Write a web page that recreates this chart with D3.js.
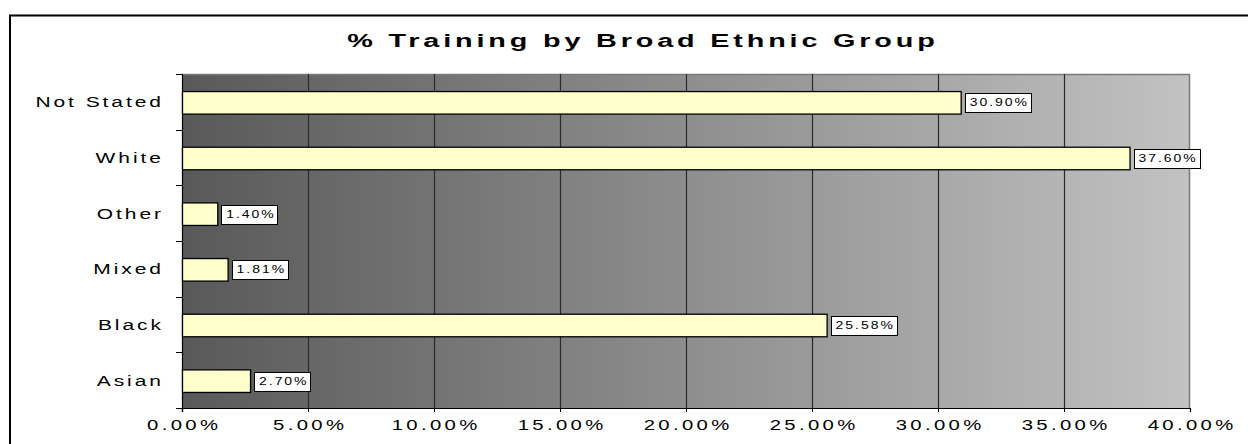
<!DOCTYPE html>
<html><head><meta charset="utf-8">
<script src="https://cdn.jsdelivr.net/npm/d3@7"></script>
<style>body{margin:0;background:#fff}svg{display:block}</style>
</head><body>
<svg id="chart" width="1248" height="444"></svg>
<script>
const title = "% Training by Broad Ethnic Group";
const categories = ["Not Stated", "White", "Other", "Mixed", "Black", "Asian"];
const values = [30.90, 37.60, 1.40, 1.81, 25.58, 2.70];
const labels = ["30.90%", "37.60%", "1.40%", "1.81%", "25.58%", "2.70%"];
const xTicks = [0, 5, 10, 15, 20, 25, 30, 35, 40];

const svg = d3.select("#chart");
const M = {left: 182, top: 74, right: 1190, bottom: 408};
const font = "Liberation Sans, Arial, sans-serif";

// outer frame
svg.append("rect").attr("x", 10).attr("y", 15.5).attr("width", 1400).attr("height", 600)
  .attr("fill", "#fff").attr("stroke", "#000").attr("stroke-width", 2);

const defs = svg.append("defs");
const grad = defs.append("linearGradient").attr("id", "bg").attr("x1", "0%").attr("x2", "100%").attr("y1", "0%").attr("y2", "0%");
grad.append("stop").attr("offset", "0%").attr("stop-color", "#595959");
grad.append("stop").attr("offset", "100%").attr("stop-color", "#c2c2c2");

const x = d3.scaleLinear().domain([0, 40]).range([M.left, M.right]);
const y = d3.scaleBand().domain(categories).range([M.top, M.bottom]).padding(0);

// plot background
svg.append("rect").attr("x", M.left).attr("y", M.top).attr("width", M.right - M.left).attr("height", M.bottom - M.top)
  .attr("fill", "url(#bg)");
// top/right border
svg.append("path").attr("d", `M${M.left},${M.top + 0.5}H${M.right - 0.5}V${M.bottom}`)
  .attr("fill", "none").attr("stroke", "#7a7a7a").attr("stroke-width", 1.5);

// gridlines
svg.append("g").selectAll("line").data(xTicks.filter(d => d > 0 && d < 40)).join("line")
  .attr("x1", d => Math.round(x(d)) + 0.5).attr("x2", d => Math.round(x(d)) + 0.5)
  .attr("y1", M.top).attr("y2", M.bottom)
  .attr("stroke", "#2a2a2a").attr("stroke-width", 1.2);

// x axis
const tickLS = 2.4, tickSX = 1.4;
const xAxis = d3.axisBottom(x).tickValues(xTicks).tickSize(4).tickPadding(7)
  .tickFormat(d => d.toFixed(2) + "%");
const gx = svg.append("g").attr("transform", `translate(0,${M.bottom})`).call(xAxis);
gx.select(".domain").attr("stroke", "#000").attr("stroke-width", 1.2);
gx.selectAll(".tick line").attr("stroke", "#000");
gx.selectAll(".tick text")
  .attr("font-family", font).attr("font-size", 14.5).attr("fill", "#000")
  .attr("dy", null).attr("y", null).attr("text-anchor", "middle")
  .attr("letter-spacing", tickLS).attr("dx", tickLS / 2)
  .attr("transform", `translate(0,21.5) scale(${tickSX},1)`);

// y axis ticks at boundaries
const bounds = d3.range(categories.length + 1).map(i => M.top + i * y.step());
svg.append("g").selectAll("line").data(bounds).join("line")
  .attr("x1", M.left - 6).attr("x2", M.left).attr("y1", d => Math.round(d) + 0.5).attr("y2", d => Math.round(d) + 0.5)
  .attr("stroke", "#000");
svg.append("line").attr("x1", M.left + 0.5).attr("x2", M.left + 0.5).attr("y1", M.top).attr("y2", M.bottom + 4)
  .attr("stroke", "#000").attr("stroke-width", 1.2);

// category labels
const catLS = 2.1, catSX = 1.4;
svg.append("g").selectAll("text").data(categories).join("text")
  .attr("text-anchor", "end").attr("font-family", font).attr("font-size", 15).attr("fill", "#000")
  .attr("letter-spacing", catLS).attr("dx", catLS)
  .attr("transform", d => `translate(161,${y(d) + y.bandwidth() / 2 + 5.5}) scale(${catSX},1)`)
  .text(d => d);

// bars
const bh = y.bandwidth() * 0.405;
const rows = categories.map((c, i) => ({c, v: values[i], l: labels[i]}));
svg.append("g").selectAll("rect").data(rows).join("rect")
  .attr("x", M.left + 0.5).attr("y", d => y(d.c) + y.bandwidth() / 2 - bh / 2 + 1)
  .attr("width", d => x(d.v) - M.left).attr("height", bh)
  .attr("fill", "#ffffcc").attr("stroke", "#000").attr("stroke-width", 1.3);

// data labels
const lblLS = 1.4, lblSX = 1.4;
const lg = svg.append("g").selectAll("g").data(rows).join("g");
lg.each(function(d) {
  const g = d3.select(this);
  const cy = y(d.c) + y.bandwidth() / 2 + 1;
  const bx = x(d.v) + 4;
  const box = g.append("rect").attr("fill", "#fff").attr("stroke", "#000").attr("stroke-width", 1);
  const t = g.append("text").attr("font-family", font).attr("font-size", 10).attr("fill", "#000")
    .attr("letter-spacing", lblLS)
    .attr("transform", `translate(${bx + 5},${cy + 3.5}) scale(${lblSX},1)`).text(d.l);
  const w = t.node().getComputedTextLength() * lblSX;
  box.attr("x", Math.round(bx) + 0.5).attr("y", Math.round(cy - 9.5) + 0.5).attr("width", Math.round(w + 7)).attr("height", 19);
});

// title
const tLS = 2.4, tSX = 1.6;
svg.append("text").attr("text-anchor", "middle").attr("font-family", font).attr("font-weight", "bold")
  .attr("font-size", 18).attr("fill", "#000")
  .attr("letter-spacing", tLS).attr("dx", tLS / 2)
  .attr("transform", `translate(641,47) scale(${tSX},1)`).text(title);
</script>
</body></html>
